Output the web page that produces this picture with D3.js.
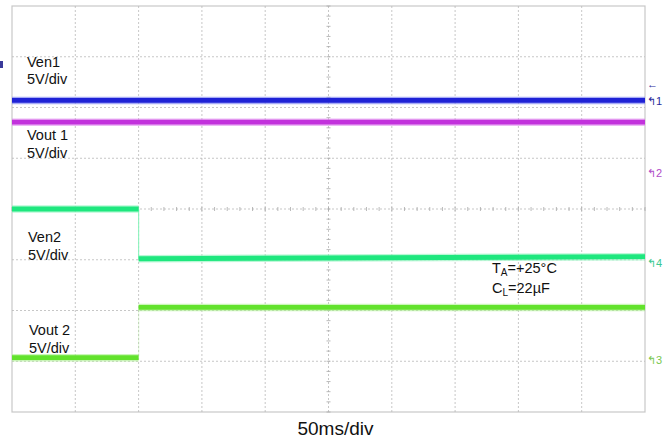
<!DOCTYPE html>
<html>
<head>
<meta charset="utf-8">
<script src="https://cdn.jsdelivr.net/npm/d3@7"></script>
<style>
  body { margin: 0; background: #fff; }
  text { font-family: "Liberation Sans", Arial, sans-serif; fill: #111; }
</style>
</head>
<body>
<script>
// Scope screen: 10 horizontal divisions of 50 ms, 8 vertical divisions
const width = 665;
const height = 440;
const plot = { left: 12, right: 645, top: 6, bottom: 412 };

const timeDomain = [0, 500];          // ms
const divDomain = [-4, 4];            // vertical divisions
const xGrid = d3.range(50, 500, 50);
const yGrid = d3.range(-3, 4, 1);

// trace levels in divisions from screen centre, time in ms
const ven1Time = [0, 500];
const ven1Level = [2.14, 2.14];
const vout1Time = [0, 500];
const vout1Level = [1.71, 1.71];
const ven2Time = [0, 100, 100, 500];
const ven2Level = [0.0, 0.0, -0.98, -0.94];
const vout2Time = [0, 100, 100, 500];
const vout2Level = [-2.93, -2.93, -1.94, -1.94];

const traces = [
  { name: "Ven1", time: ven1Time, level: ven1Level, color: "#1f22d6", halo: "#6d74f0", edge: 0 },
  { name: "Vout1", time: vout1Time, level: vout1Level, color: "#c232dc", halo: "#e08af0", edge: 0 },
  { name: "Ven2", time: ven2Time, level: ven2Level, color: "#1ee77e", halo: "#8af3bb", edge: 0.9 },
  { name: "Vout2", time: vout2Time, level: vout2Level, color: "#62e22c", halo: "#a9f08a", edge: 0.25 }
];

const labels = [
  { text: "Ven1", x: 27, y: 67 },
  { text: "5V/div", x: 27, y: 84 },
  { text: "Vout 1", x: 27, y: 140 },
  { text: "5V/div", x: 27, y: 158 },
  { text: "Ven2", x: 28, y: 242 },
  { text: "5V/div", x: 28, y: 260 },
  { text: "Vout 2", x: 29, y: 335 },
  { text: "5V/div", x: 29, y: 353 }
];

const x = d3.scaleLinear().domain(timeDomain).range([plot.left, plot.right]);
const y = d3.scaleLinear().domain(divDomain).range([plot.bottom, plot.top]);

const svg = d3.select("body").append("svg")
    .attr("width", width)
    .attr("height", height)
    .attr("viewBox", [0, 0, width, height]);

// frame
svg.append("rect")
    .attr("x", plot.left).attr("y", plot.top)
    .attr("width", plot.right - plot.left).attr("height", plot.bottom - plot.top)
    .attr("fill", "none").attr("stroke", "#c8c8c8").attr("stroke-width", 1.2);

// dotted grid
const grid = svg.append("g").attr("stroke", "#b9b9b9").attr("stroke-width", 0.8)
    .attr("stroke-dasharray", "2,2");
grid.selectAll(".vg").data(xGrid).join("line")
    .attr("x1", d => x(d)).attr("x2", d => x(d))
    .attr("y1", plot.top).attr("y2", plot.bottom);
grid.selectAll(".hg").data(yGrid).join("line")
    .attr("x1", plot.left).attr("x2", plot.right)
    .attr("y1", d => y(d)).attr("y2", d => y(d));

// minor ticks on the centre lines
const minorX = d3.range(0, 500.01, 10);
const minorY = d3.range(-4, 4.01, 0.2);
svg.append("g").attr("stroke", "#a8a8a8").attr("stroke-width", 0.8)
  .selectAll("line").data(minorX).join("line")
    .attr("x1", d => x(d)).attr("x2", d => x(d))
    .attr("y1", y(0) - 2).attr("y2", y(0) + 2);
svg.append("g").attr("stroke", "#a8a8a8").attr("stroke-width", 0.8)
  .selectAll("line").data(minorY).join("line")
    .attr("x1", x(250) - 2).attr("x2", x(250) + 2)
    .attr("y1", d => y(d)).attr("y2", d => y(d));

// traces: flat runs drawn thick, switching edges drawn as thin faint lines
const line = d3.line().x(d => x(d[0])).y(d => y(d[1]));
const tg = svg.append("g").attr("fill", "none").attr("stroke-linecap", "butt");
traces.forEach(t => {
  const pts = t.time.map((v, i) => [v, t.level[i]]);
  const runs = [], edges = [];
  for (let i = 1; i < pts.length; i++) {
    (pts[i][0] === pts[i - 1][0] ? edges : runs).push([pts[i - 1], pts[i]]);
  }
  tg.selectAll(null).data(edges).join("path")
      .attr("d", line)
      .attr("stroke", t.halo).attr("stroke-width", 1.2).attr("opacity", t.edge);
  tg.selectAll(null).data(runs).join("path")
      .attr("d", line)
      .attr("stroke", t.halo).attr("stroke-width", 7.5).attr("opacity", 0.6);
  tg.selectAll(null).data(runs).join("path")
      .attr("d", line)
      .attr("stroke", t.color).attr("stroke-width", 4.8);
});

// channel labels
svg.append("g").selectAll("text").data(labels).join("text")
    .attr("x", d => d.x).attr("y", d => d.y)
    .attr("font-size", 14.5)
    .text(d => d.text);

// conditions
const cond = svg.append("g").attr("font-size", 14.5);
const ta = cond.append("text").attr("x", 492).attr("y", 273);
ta.append("tspan").text("T");
ta.append("tspan").attr("font-size", 10).attr("dy", 3).text("A");
ta.append("tspan").attr("dy", -3).text("=+25°C");
const cl = cond.append("text").attr("x", 492).attr("y", 293);
cl.append("tspan").text("C");
cl.append("tspan").attr("font-size", 10).attr("dy", 3).text("L");
cl.append("tspan").attr("dy", -3).text("=22µF");

// time base
svg.append("text")
    .attr("x", x(250) + 7).attr("y", 435)
    .attr("text-anchor", "middle")
    .attr("font-size", 19)
    .text("50ms/div");

// channel markers at the right edge
const markers = [
  { t: "←", yv: 84, c: "#2a2a9a" },
  { t: "↰1", yv: 101, c: "#2a2a9a" },
  { t: "↰2", yv: 173, c: "#b04cc8" },
  { t: "↰4", yv: 263, c: "#3ac890" },
  { t: "↰3", yv: 360, c: "#7ac850" }
];
svg.append("g").selectAll("text").data(markers).join("text")
    .attr("x", 647).attr("y", d => d.yv + 4)
    .attr("font-size", 11)
    .style("fill", d => d.c)
    .text(d => d.t);

// left edge marker
svg.append("rect").attr("x", 0).attr("y", 61).attr("width", 3).attr("height", 7)
    .attr("fill", "#3a3a9a");
</script>
</body>
</html>
